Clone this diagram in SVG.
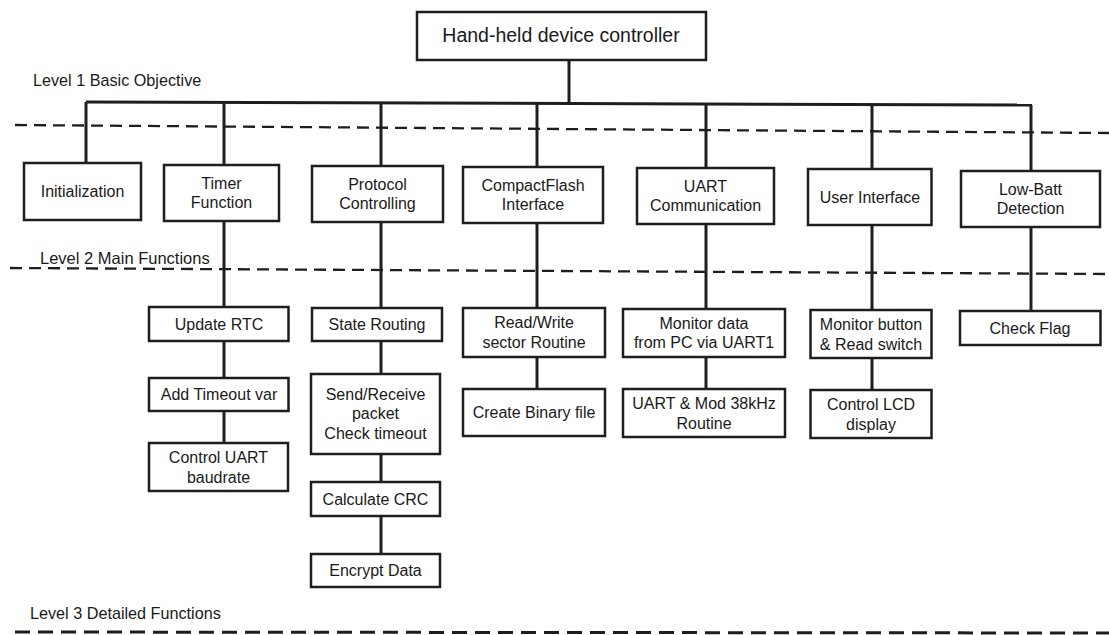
<svg xmlns="http://www.w3.org/2000/svg" width="1109" height="635" viewBox="0 0 1109 635">
  <style>
    .box { fill: #ffffff; stroke: #1e1e1e; stroke-width: 2.5; }
    .lbl { font-family: "Liberation Sans", Arial, sans-serif; font-size: 16px; fill: #1a1a1a; text-anchor: middle; dominant-baseline: central; }
    .title { font-family: "Liberation Sans", Arial, sans-serif; font-size: 19.5px; fill: #1a1a1a; text-anchor: middle; dominant-baseline: central; }
    .lvl { font-family: "Liberation Sans", Arial, sans-serif; font-size: 16.2px; fill: #1a1a1a; dominant-baseline: central; }
    .conn { stroke: #1e1e1e; stroke-width: 3; fill: none; }
    .dash { stroke: #1e1e1e; stroke-width: 2.3; stroke-dasharray: 12 7; fill: none; }
    .dash3 { stroke: #1e1e1e; stroke-width: 3; stroke-dasharray: 15 8; fill: none; }
  </style>

  <g id="levels">
    <line class="dash" x1="15" y1="125" x2="1109" y2="133"/>
    <line class="dash" x1="10" y1="268" x2="1109" y2="274"/>
    <line class="dash3" x1="15" y1="632" x2="1109" y2="633"/>
    <text class="lvl" x="33" y="80">Level 1 Basic Objective</text>
    <text class="lvl" x="40" y="258" style="font-size:16.5px">Level 2 Main Functions</text>
    <text class="lvl" x="30" y="613">Level 3 Detailed Functions</text>
  </g>

  <g id="connectors">
    <line class="conn" x1="569" y1="60" x2="569" y2="103"/>
    <line class="conn" x1="86" y1="102" x2="1032" y2="105"/>
    <line class="conn" x1="86" y1="102" x2="86" y2="163"/>
    <line class="conn" x1="224" y1="102" x2="224" y2="165"/>
    <line class="conn" x1="381" y1="103" x2="381" y2="166"/>
    <line class="conn" x1="537" y1="103" x2="537" y2="167"/>
    <line class="conn" x1="706" y1="104" x2="706" y2="168"/>
    <line class="conn" x1="872" y1="104" x2="872" y2="169"/>
    <line class="conn" x1="1031" y1="105" x2="1031" y2="171"/>
    <line class="conn" x1="224" y1="221" x2="224" y2="307"/>
    <line class="conn" x1="224" y1="341" x2="224" y2="378"/>
    <line class="conn" x1="224" y1="411" x2="224" y2="443"/>
    <line class="conn" x1="381" y1="222" x2="381" y2="308"/>
    <line class="conn" x1="381" y1="341" x2="381" y2="374"/>
    <line class="conn" x1="381" y1="454" x2="381" y2="482"/>
    <line class="conn" x1="381" y1="516" x2="381" y2="554"/>
    <line class="conn" x1="537" y1="223" x2="537" y2="308"/>
    <line class="conn" x1="537" y1="357" x2="537" y2="389"/>
    <line class="conn" x1="706" y1="224" x2="706" y2="309"/>
    <line class="conn" x1="706" y1="357" x2="706" y2="389"/>
    <line class="conn" x1="872" y1="225" x2="872" y2="310"/>
    <line class="conn" x1="872" y1="358" x2="872" y2="390"/>
    <line class="conn" x1="1031" y1="227" x2="1031" y2="312"/>
  </g>

  <g id="root">
    <rect class="box" x="417" y="12" width="289" height="48"/>
    <text class="title" x="561" y="35">Hand-held device controller</text>
  </g>

  <g id="initialization">
    <rect class="box" x="24" y="163" width="117" height="57"/>
    <text class="lbl" x="82.5" y="191.5">Initialization</text>
  </g>
  <g id="timer">
    <rect class="box" x="164" y="165" width="115" height="56"/>
    <text class="lbl" x="221.5" y="183">Timer</text>
    <text class="lbl" x="221.5" y="202">Function</text>
  </g>
  <g id="protocol">
    <rect class="box" x="312" y="166" width="131" height="56"/>
    <text class="lbl" x="377.5" y="184">Protocol</text>
    <text class="lbl" x="377.5" y="203">Controlling</text>
  </g>
  <g id="compactflash">
    <rect class="box" x="463" y="167" width="140" height="56"/>
    <text class="lbl" x="533" y="185">CompactFlash</text>
    <text class="lbl" x="533" y="204">Interface</text>
  </g>
  <g id="uart">
    <rect class="box" x="637" y="168" width="137" height="56"/>
    <text class="lbl" x="705.5" y="186">UART</text>
    <text class="lbl" x="705.5" y="205">Communication</text>
  </g>
  <g id="userinterface">
    <rect class="box" x="808" y="169" width="123.5" height="56"/>
    <text class="lbl" x="870" y="197">User Interface</text>
  </g>
  <g id="lowbatt">
    <rect class="box" x="961" y="171" width="139" height="56"/>
    <text class="lbl" x="1030.5" y="189">Low-Batt</text>
    <text class="lbl" x="1030.5" y="208">Detection</text>
  </g>

  <g id="update-rtc">
    <rect class="box" x="149" y="307" width="139.5" height="34"/>
    <text class="lbl" x="219" y="324">Update RTC</text>
  </g>
  <g id="add-timeout">
    <rect class="box" x="149" y="378" width="139.5" height="33"/>
    <text class="lbl" x="219" y="394.5">Add Timeout var</text>
  </g>
  <g id="control-uart">
    <rect class="box" x="149" y="443" width="139" height="48"/>
    <text class="lbl" x="218.5" y="457">Control UART</text>
    <text class="lbl" x="218.5" y="477">baudrate</text>
  </g>
  <g id="state-routing">
    <rect class="box" x="312" y="308" width="130" height="33"/>
    <text class="lbl" x="377" y="324.5">State Routing</text>
  </g>
  <g id="send-receive">
    <rect class="box" x="311" y="374" width="129" height="80"/>
    <text class="lbl" x="375.5" y="394">Send/Receive</text>
    <text class="lbl" x="375.5" y="413.5">packet</text>
    <text class="lbl" x="375.5" y="433">Check timeout</text>
  </g>
  <g id="calc-crc">
    <rect class="box" x="311" y="482" width="129" height="34"/>
    <text class="lbl" x="375.5" y="499">Calculate CRC</text>
  </g>
  <g id="encrypt">
    <rect class="box" x="311" y="554" width="129" height="33"/>
    <text class="lbl" x="375.5" y="570.5">Encrypt Data</text>
  </g>
  <g id="read-write">
    <rect class="box" x="463" y="308" width="142" height="49"/>
    <text class="lbl" x="534" y="322.5">Read/Write</text>
    <text class="lbl" x="534" y="342">sector Routine</text>
  </g>
  <g id="create-binary">
    <rect class="box" x="463" y="389" width="142" height="47"/>
    <text class="lbl" x="534" y="412">Create Binary file</text>
  </g>
  <g id="monitor-data">
    <rect class="box" x="623" y="309" width="162" height="48"/>
    <text class="lbl" x="704" y="323">Monitor data</text>
    <text class="lbl" x="704" y="342">from PC via UART1</text>
  </g>
  <g id="uart-mod">
    <rect class="box" x="623" y="389" width="162" height="48"/>
    <text class="lbl" x="704" y="403">UART &amp; Mod 38kHz</text>
    <text class="lbl" x="704" y="423">Routine</text>
  </g>
  <g id="monitor-button">
    <rect class="box" x="810.5" y="310" width="121" height="48"/>
    <text class="lbl" x="871" y="324">Monitor button</text>
    <text class="lbl" x="871" y="344">&amp; Read switch</text>
  </g>
  <g id="control-lcd">
    <rect class="box" x="810.5" y="390" width="121" height="48"/>
    <text class="lbl" x="871" y="404">Control LCD</text>
    <text class="lbl" x="871" y="424">display</text>
  </g>
  <g id="check-flag">
    <rect class="box" x="960" y="311" width="140.5" height="34"/>
    <text class="lbl" x="1030" y="328">Check Flag</text>
  </g>
</svg>
